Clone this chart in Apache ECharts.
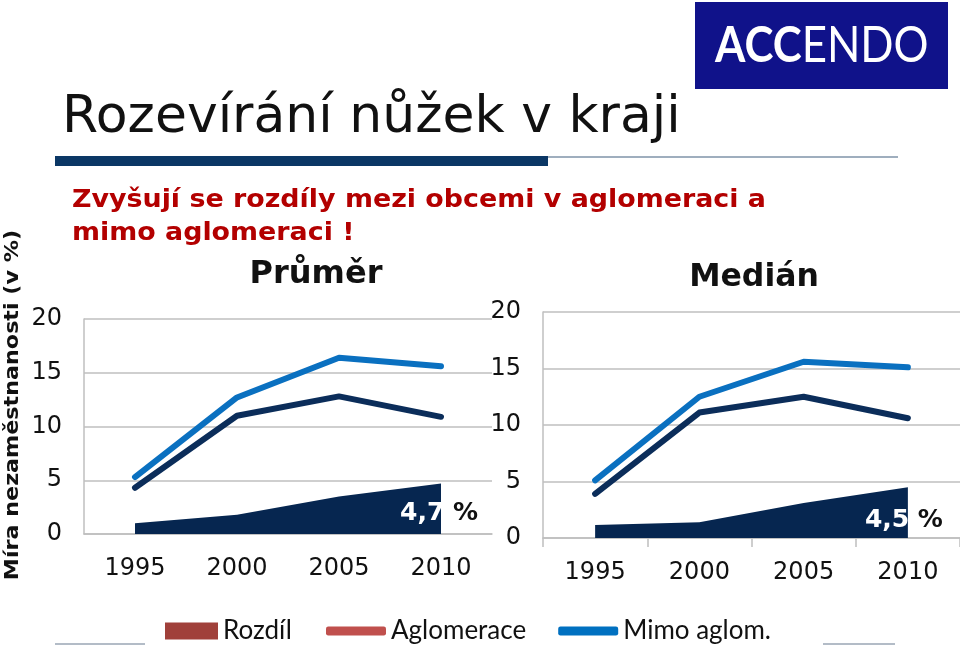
<!DOCTYPE html>
<html><head><meta charset="utf-8">
<script src="https://cdn.jsdelivr.net/npm/echarts@6/dist/echarts.min.js"></script>
<style>html,body{margin:0;padding:0;background:#fff}#c{width:960px;height:648px}</style>
</head><body><div id="c"></div>
<script>
// ---- data ----
const years = ['1995', '2000', '2005', '2010'];
const avgAglom = [4.3, 11.0, 12.8, 10.9];
const avgMimo = [5.3, 12.7, 16.4, 15.6];
const avgDiff = [1.0, 1.8, 3.5, 4.7];
const medAglom = [3.9, 11.1, 12.5, 10.6];
const medMimo = [5.1, 12.5, 15.6, 15.1];
const medDiff = [1.15, 1.4, 3.1, 4.5];
const yMin = 0, yMax = 20, yStep = 5;

const C_MIMO = '#0a70c0', C_AGL = '#0b2d5a', C_DIFF = '#062650';
const GRID_C = '#bfbfbf';
const F = 'DejaVu Sans';

function fmt(v) { const n = Array.isArray(v) ? v[v.length - 1] : v; return n.toFixed(1).replace('.', ','); }

function yAxis(gi) {
  return {
    type: 'value', gridIndex: gi, min: yMin, max: yMax, interval: yStep,
    axisLine: { show: true, lineStyle: { color: GRID_C, width: 1.5 } },
    axisTick: { show: false },
    splitLine: { lineStyle: { color: GRID_C, width: 1.5 } },
    axisLabel: { color: '#111', fontFamily: F, fontSize: 24, margin: 22 }
  };
}
function xAxis(gi, ticks) {
  return {
    type: 'category', gridIndex: gi, data: years, boundaryGap: true,
    axisLine: { show: true, lineStyle: { color: GRID_C, width: 1.5 } },
    axisTick: { show: ticks, length: 9, lineStyle: { color: GRID_C, width: 1.5 } },
    axisLabel: { color: '#111', fontFamily: F, fontSize: 24, margin: 23 }
  };
}
function diffSeries(gi, data, dx, dy) {
  return {
    name: 'Rozdíl', type: 'line', xAxisIndex: gi, yAxisIndex: gi, data: data,
    symbol: 'none', lineStyle: { width: 0 }, itemStyle: { color: C_DIFF },
    areaStyle: { color: C_DIFF, opacity: 1 }, z: 1,
    endLabel: {
      show: true, offset: [dx, dy], formatter: p => '{w|' + fmt(p.value) + '}{k| %}',
      rich: {
        w: { color: '#fff', fontFamily: F, fontWeight: 'bold', fontSize: 25 },
        k: { color: '#111', fontFamily: F, fontWeight: 'bold', fontSize: 25 }
      }
    }
  };
}
function lineSeries(name, gi, data, color) {
  return {
    name: name, type: 'line', xAxisIndex: gi, yAxisIndex: gi, data: data,
    symbol: 'none', lineStyle: { width: 6, color: color, cap: 'round', join: 'round' },
    itemStyle: { color: color }, z: 3
  };
}

const chart = echarts.init(document.getElementById('c'), null, { renderer: 'canvas' });
chart.setOption({
  animation: false,
  backgroundColor: '#fff',
  grid: [
    { left: 84, top: 319, width: 408, height: 215 },
    { left: 543, top: 312, width: 421, height: 226 }
  ],
  xAxis: [xAxis(0, false), xAxis(1, true)],
  yAxis: [yAxis(0), yAxis(1)],
  legend: [
    {
      left: 165, top: 618, padding: 0, itemWidth: 53, itemHeight: 17, itemGap: 20,
      textStyle: { fontFamily: 'Lato', fontSize: 26, color: '#111' },
      data: [{ name: 'Rozdíl', icon: 'rect', itemStyle: { color: '#a0403a' } }]
    },
    {
      left: 326, top: 618, padding: 0, itemWidth: 60, itemHeight: 9, itemGap: 32,
      textStyle: { fontFamily: 'Lato', fontSize: 26, color: '#111' },
      data: [
        { name: 'Aglomerace', icon: 'roundRect', itemStyle: { color: '#c0504d' } },
        { name: 'Mimo aglom.', icon: 'roundRect', itemStyle: { color: '#0070c0' } }
      ]
    }
  ],
  series: [
    diffSeries(0, avgDiff, -49, 30),
    lineSeries('Aglomerace', 0, avgAglom, C_AGL),
    lineSeries('Mimo aglom.', 0, avgMimo, C_MIMO),
    diffSeries(1, medDiff, -51, 33),
    lineSeries('Aglomerace', 1, medAglom, C_AGL),
    lineSeries('Mimo aglom.', 1, medMimo, C_MIMO)
  ],
  graphic: [
    { type: 'rect', shape: { x: 695, y: 2, width: 253, height: 87 }, style: { fill: '#10128a' } },
    { type: 'text', x: 715, y: 46, scaleX: 0.875, style: {
        text: '{b|ACC}{n|ENDO}', verticalAlign: 'middle', align: 'left',
        rich: {
          b: { fill: '#fff', fontFamily: 'Lato', fontWeight: 'bold', fontSize: 50 },
          n: { fill: '#fff', fontFamily: 'Lato', fontSize: 50 }
        } } },
    { type: 'text', x: 62, y: 118, style: { text: 'Rozevírání nůžek v kraji', fill: '#111', fontFamily: F, fontSize: 52, verticalAlign: 'middle' } },
    { type: 'rect', shape: { x: 55, y: 156, width: 493, height: 10 }, style: { fill: '#0b3765' } },
    { type: 'line', shape: { x1: 548, y1: 157, x2: 898, y2: 157 }, style: { stroke: '#7f93a8', lineWidth: 1.5 } },
    { type: 'text', x: 72, y: 200, scaleX: 1.075, style: { text: 'Zvyšují se rozdíly mezi obcemi v aglomeraci a', fill: '#b30000', fontFamily: F, fontWeight: 'bold', fontSize: 25, verticalAlign: 'middle' } },
    { type: 'text', x: 72, y: 233, scaleX: 1.075, style: { text: 'mimo aglomeraci !', fill: '#b30000', fontFamily: F, fontWeight: 'bold', fontSize: 25, verticalAlign: 'middle' } },
    { type: 'text', x: 13, y: 405, rotation: Math.PI / 2, scaleX: 1.17, style: { text: 'Míra nezaměstnanosti (v %)', fill: '#111', fontFamily: F, fontWeight: 'bold', fontSize: 19, align: 'center', verticalAlign: 'middle' } },
    { type: 'text', x: 316, y: 275, style: { text: 'Průměr', fill: '#111', fontFamily: F, fontWeight: 'bold', fontSize: 32, align: 'center', verticalAlign: 'middle' } },
    { type: 'text', x: 754, y: 278, style: { text: 'Medián', fill: '#111', fontFamily: F, fontWeight: 'bold', fontSize: 31.5, align: 'center', verticalAlign: 'middle' } },
    { type: 'line', shape: { x1: 55, y1: 644, x2: 145, y2: 644 }, style: { stroke: '#9aa6b4', lineWidth: 1.5 } },
    { type: 'line', shape: { x1: 823, y1: 644, x2: 895, y2: 644 }, style: { stroke: '#9aa6b4', lineWidth: 1.5 } }
  ]
});
</script></body></html>
